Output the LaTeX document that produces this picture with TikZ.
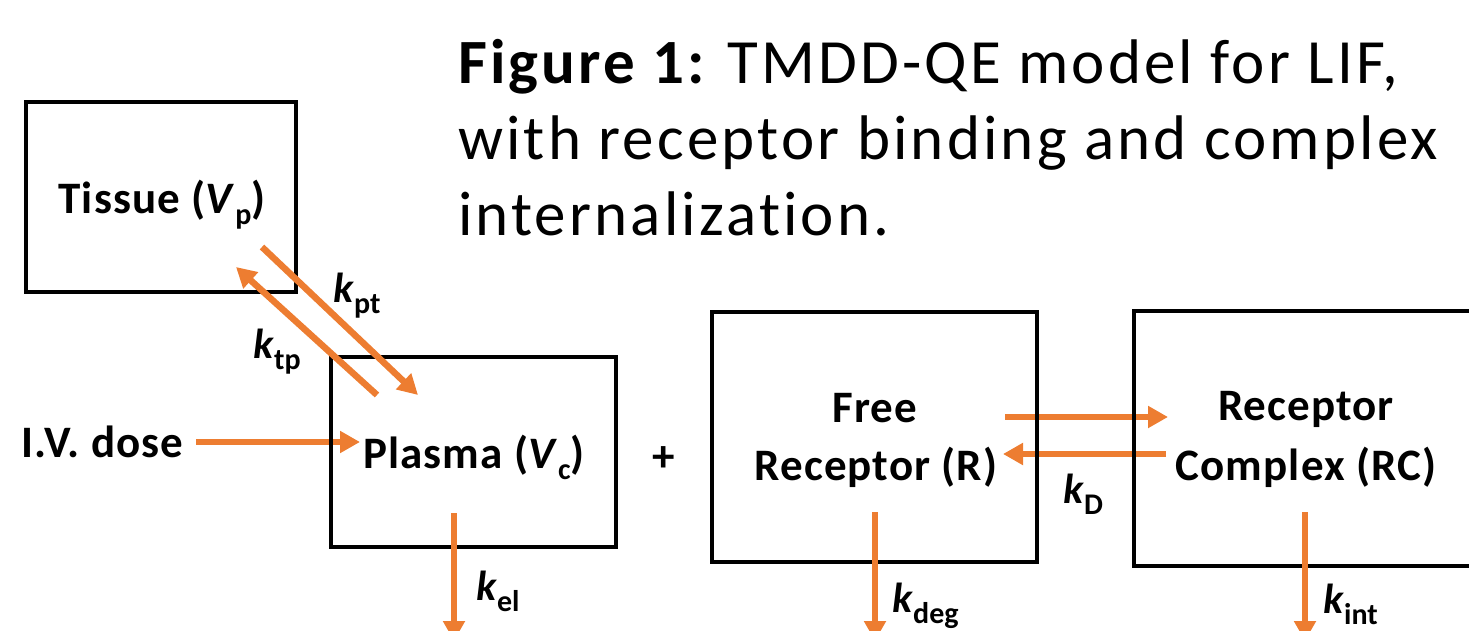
\documentclass[tikz,border=0pt]{standalone}
\usepackage{fontspec}
\setmainfont[Ligatures=NoCommon]{Carlito}
\usetikzlibrary{arrows.meta}
\definecolor{orng}{HTML}{ED7D31}
\newcommand\lsub[1]{\raisebox{-11pt}{\fontsize{30}{30}\selectfont\bfseries\upshape #1}}
\newcommand\kk[1]{\textit{k}\lsub{#1}}
\begin{document}
\begin{tikzpicture}[x=1pt,y=-1pt,
  box/.style={draw=black,line width=4pt,inner sep=0pt},
  flow/.style={draw=orng,line width=6.5pt,-{Triangle[length=20pt,width=21pt]}},
  lab/.style={anchor=base,inner sep=0pt,font=\fontsize{45}{45}\selectfont\bfseries\addfontfeatures{LetterSpace=2.5}},
  klab/.style={anchor=base west,inner sep=0pt,font=\fontsize{42}{42}\selectfont\bfseries},
  ttl/.style={anchor=base west,inner sep=0pt,font=\fontsize{63}{76}\selectfont\addfontfeatures{LetterSpace=5}}]
\useasboundingbox (0,0) rectangle (1469,631);

% title
\node[ttl] (t1) at (458,84) {\textbf{Figure 1:}\hspace{-4pt} TMDD-QE model for LIF,};
\node[ttl] (t2) at (458,160) {with receptor binding and complex};
\node[ttl] (t3) at (458,236) {internalization.};

% coordinates for connectors
\coordinate (iv1) at (196,442); \coordinate (iv2) at (360,442);
\coordinate (f1) at (1005,417); \coordinate (f2) at (1168,417);
\coordinate (b1) at (1166,454); \coordinate (b2) at (1003,454);
\coordinate (pt1) at (262,247); \coordinate (pt2) at (418,395);
\coordinate (tp1) at (377,395); \coordinate (tp2) at (236,267);
\coordinate (el1) at (454,513); \coordinate (el2) at (454,641);
\coordinate (dg1) at (875,512); \coordinate (dg2) at (875,641);
\coordinate (in1) at (1305,512); \coordinate (in2) at (1305,641);

% horizontal arrows (under the box borders)
\draw[flow] (iv1) -- (iv2);
\draw[flow] (f1) -- (f2);
\draw[flow] (b1) -- (b2);

% boxes
\node[box,minimum width=270pt,minimum height=190pt] (tissue) at (161,197) {};
\node[box,minimum width=285pt,minimum height=190pt] (plasma) at (473.5,452) {};
\node[box,minimum width=325pt,minimum height=250pt] (free) at (874.5,437) {};
\node[box,minimum width=344pt,minimum height=255pt] (rc) at (1306,438.5) {};

% box texts
\node[lab] (tissuet) at (162,213) {Tissue (\textit{V}\lsub{p})};
\node[lab] (plasmat) at (474,468) {Plasma (\textit{V}\lsub{c})};
\node[lab] (free1) at (875,422) {Free};
\node[lab] (free2) at (876,480) {Receptor (R)};
\node[lab] (rc1) at (1306,420) {Receptor};
\node[lab] (rc2) at (1306,480) {Complex (RC)};
\node[lab,anchor=base west] (iv) at (21,457) {I.V. dose};
\node[lab] (plus) at (664,471) {+};

% other arrows
\draw[flow] (pt1) -- (pt2);
\draw[flow] (tp1) -- (tp2);
\draw[flow] (el1) -- (el2);
\draw[flow] (dg1) -- (dg2);
\draw[flow] (in1) -- (in2);

% rate labels
\node[klab] (kpt) at (333,302) {\kk{pt}};
\node[klab] (ktp) at (253,358) {\kk{tp}};
\node[klab] (kel) at (476,600) {\kk{el}};
\node[klab] (kd) at (1063,503) {\kk{D}};
\node[klab] (kdeg) at (892,612) {\kk{deg}};
\node[klab] (kint) at (1323,613) {\kk{int}};
\end{tikzpicture}
\end{document}
